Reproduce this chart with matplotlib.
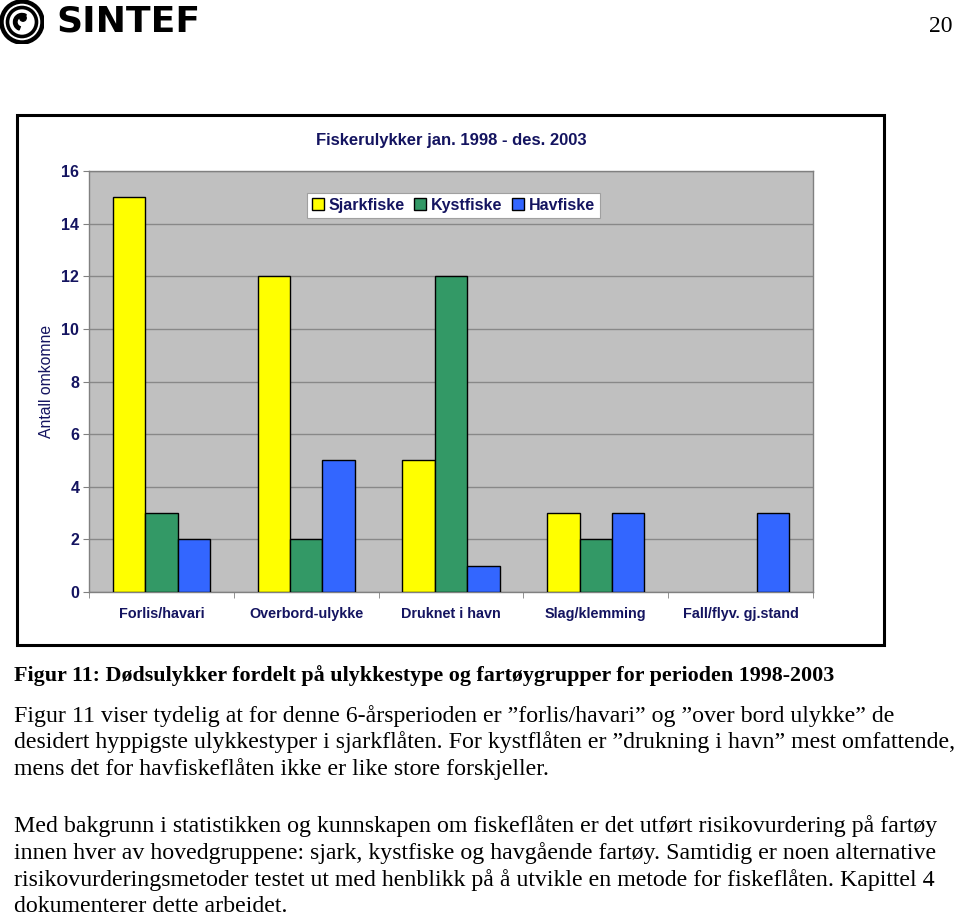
import matplotlib
matplotlib.use("Agg")
import matplotlib.pyplot as plt
import numpy as np
from matplotlib.patches import Rectangle, Circle, Wedge

categories = ["Forlis/havari", "Overbord-ulykke", "Druknet i havn", "Slag/klemming", "Fall/flyv. gj.stand"]
series_names = ["Sjarkfiske", "Kystfiske", "Havfiske"]
sjarkfiske = [15, 12, 5, 3, 0]
kystfiske = [3, 2, 12, 2, 0]
havfiske = [2, 5, 1, 3, 3]
yticks = [0, 2, 4, 6, 8, 10, 12, 14, 16]
title = "Fiskerulykker jan. 1998 - des. 2003"
ylabel = "Antall omkomne"
caption = "Figur 11: Dødsulykker fordelt på ulykkestype og fartøygrupper for perioden 1998-2003"
para1 = ["Figur 11 viser tydelig at for denne 6-årsperioden er \u201dforlis/havari\u201d og \u201dover bord ulykke\u201d de",
         "desidert hyppigste ulykkestyper i sjarkflåten. For kystflåten er \u201ddrukning i havn\u201d mest omfattende,",
         "mens det for havfiskeflåten ikke er like store forskjeller."]
para2 = ["Med bakgrunn i statistikken og kunnskapen om fiskeflåten er det utført risikovurdering på fartøy",
         "innen hver av hovedgruppene: sjark, kystfiske og havgående fartøy. Samtidig er noen alternative",
         "risikovurderingsmetoder testet ut med henblikk på å utvikle en metode for fiskeflåten. Kapittel 4",
         "dokumenterer dette arbeidet."]

W, H = 960, 918
fig = plt.figure(figsize=(W / 100, H / 100), dpi=100)
fig.patch.set_facecolor("white")

def fx(x): return x / W
def fy(y): return 1 - y / H

navy = "#141460"
sans = "Liberation Sans"
serif = "Liberation Serif"

# logo
logo_ax = fig.add_axes([0, fy(44), fx(44), 44 / H])
logo_ax.set_xlim(0, 44); logo_ax.set_ylim(0, 44); logo_ax.axis("off")
logo_ax.add_patch(Circle((22, 22), 20.5, fill=False, lw=3.2, color="black"))
logo_ax.add_patch(Circle((22, 22), 14.5, fill=False, lw=2.6, color="black"))
logo_ax.add_patch(Wedge((22, 22), 8.5, 60, 250, width=3.5, color="black"))
logo_ax.add_patch(Circle((23, 26), 3.2, color="black"))
logo_ax.set_aspect("equal")
fig.text(fx(56), fy(22), "SINTEF", fontsize=26, fontweight="bold", family="DejaVu Sans",
         va="center", ha="left", color="black")
fig.text(fx(953), fy(26), "20", fontsize=17, family=serif, ha="right", va="center", color="black")

# chart frame
fig.patches.append(Rectangle((fx(17), fy(645)), fx(884) - fx(17), fy(115) - fy(645),
                             transform=fig.transFigure, fill=False, lw=2.2, ec="black", zorder=0))

L, T, R, B = 89, 171, 813, 592
ax = fig.add_axes([fx(L), fy(B), fx(R) - fx(L), fy(T) - fy(B)])
ax.set_facecolor("#c0c0c0")
x = np.arange(len(categories))
w = 0.2235
colors = ["#ffff00", "#339966", "#3366ff"]
for i, (vals, c, n) in enumerate(zip([sjarkfiske, kystfiske, havfiske], colors, series_names)):
    bars = ax.bar(x + (i - 1) * w, vals, w, color=c, edgecolor="black", lw=1.0, label=n, zorder=3)
    for b, v in zip(bars, vals):
        if v == 0:
            b.set_linewidth(0)
ax.set_xlim(-0.5, len(categories) - 0.5)
ax.set_ylim(0, 16)
ax.set_yticks(yticks)
ax.yaxis.grid(True, color="#888888", lw=1.0, zorder=0)
ax.set_axisbelow(True)
ax.set_xticks(x)
ax.set_xticklabels(categories, fontsize=10.4, fontweight="bold", color=navy, family=sans)
ax.set_xticks(np.arange(-0.5, len(categories)), minor=True)
ax.tick_params(axis="x", which="major", length=0, pad=11)
ax.tick_params(axis="x", which="minor", length=4, color="#808080", direction="out")
ax.tick_params(axis="y", length=4, color="#808080", pad=3)
for lab in ax.get_yticklabels():
    lab.set_fontsize(11.5); lab.set_fontweight("bold"); lab.set_color(navy); lab.set_family(sans)
for s in ax.spines.values():
    s.set_color("#808080"); s.set_linewidth(1.0)
ax.set_ylabel(ylabel, fontsize=11.3, color=navy, family=sans, labelpad=5)
fig.text(fx(451), fy(140), title, fontsize=12, fontweight="bold", color=navy, family=sans,
         ha="center", va="center")
leg = ax.legend(loc="upper left", bbox_to_anchor=((307 - L) / (R - L), (B - 193) / (B - T)),
                ncol=3, frameon=True, fancybox=False, edgecolor="#a0a0a0", facecolor="white",
                framealpha=1, handlelength=0.75, handleheight=0.75, handletextpad=0.3,
                columnspacing=0.6, borderpad=0.3, borderaxespad=0,
                prop={"family": sans, "weight": "bold", "size": 11.5})
for t in leg.get_texts():
    t.set_color(navy)
leg.get_frame().set_linewidth(0.8)

# caption and body text
fig.text(fx(14), fy(676), caption, fontsize=15.8, fontweight="bold", family=serif, va="center", ha="left")
for i, line in enumerate(para1):
    fig.text(fx(14), fy(716 + i * 26.5), line, fontsize=17.2, family=serif, va="center", ha="left")
for i, line in enumerate(para2):
    fig.text(fx(14), fy(826 + i * 27), line, fontsize=17.2, family=serif, va="center", ha="left")

fig.savefig("out.png", dpi=100)
